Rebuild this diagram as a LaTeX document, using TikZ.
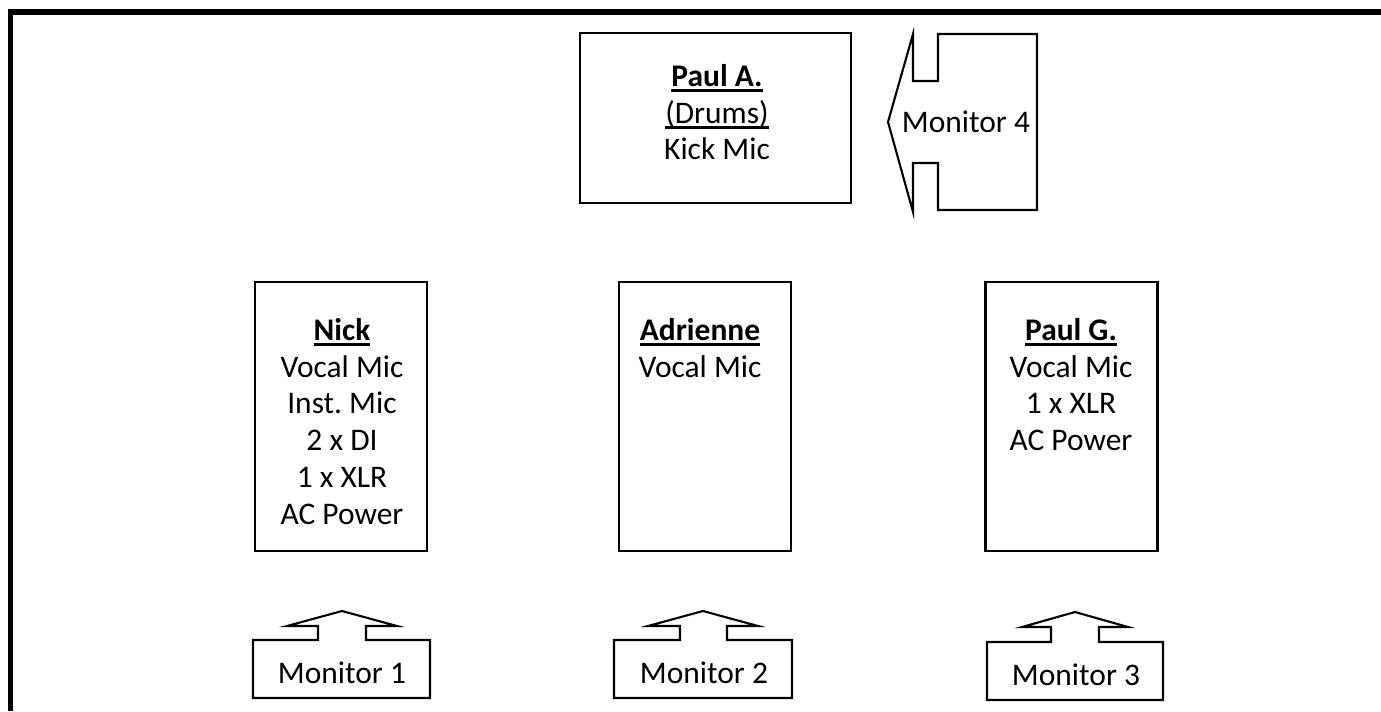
\documentclass[tikz,border=0pt]{standalone}
\usepackage{fontspec}
\setmainfont{Carlito}
\usepackage{tikz}
\usetikzlibrary{positioning}
\frenchspacing

\newcommand{\undl}[1]{\sbox0{#1}\rlap{\rule[-3.2pt]{\wd0}{1.7pt}}\usebox0}

\begin{document}
\begin{tikzpicture}[x=0.02cm,y=-0.02cm,
		stagebox/.style={draw,line width=1.2pt,inner sep=0pt},
		txt/.style={align=center,inner sep=0pt,font=\fontsize{17.9}{20.9}\selectfont},
		monline/.style={draw,line width=1.2pt,line join=miter}]
		\useasboundingbox (0,0) rectangle (1381,711);
		% stage edge
		\draw [line width=3.4pt] (10.5,711) -- (10.5,12) -- (1381,12);
		% players
		\node [stagebox,minimum width=5.42cm,minimum height=3.4cm] (paula) at (715.5,118) {};
		\node [stagebox,minimum width=3.44cm,minimum height=5.38cm] (nick) at (341,416.5) {};
		\node [stagebox,minimum width=3.44cm,minimum height=5.38cm] (adrienne) at (705,416.5) {};
		\node [stagebox,minimum width=3.44cm,minimum height=5.38cm] (paulg) at (1071.5,416.5) {};
		\node [txt,anchor=north] (paulatxt) at (717,64) {\undl{\textbf{Paul A.}}\\\undl{(Drums)}\\Kick Mic};
		\node [txt,anchor=north] (nicktxt) at (342,318) {\undl{\textbf{Nick}}\\Vocal Mic\\Inst. Mic\\2 x DI\\1 x XLR\\AC Power};
		\node [txt,anchor=north] (adriennetxt) at (700,318) {\undl{\textbf{Adrienne}}\\Vocal Mic};
		\node [txt,anchor=north] (paulgtxt) at (1071,318) {\undl{\textbf{Paul G.}}\\Vocal Mic\\1 x XLR\\AC Power};
		% monitors
		\path [monline] (253,640) -- (318,640) -- (318,626) -- (287,626) -- (342,611) -- (397,626) -- (366,626) -- (366,640) -- (430,640) -- (430,698) -- (253,698) -- cycle;
		\path [monline] (614,640) -- (680,640) -- (680,626) -- (648,626) -- (703,611) -- (758,626) -- (727,626) -- (727,640) -- (792,640) -- (792,698) -- (614,698) -- cycle;
		\path [monline] (987,642) -- (1051,642) -- (1051,627) -- (1022,627) -- (1075,612) -- (1128,627) -- (1099,627) -- (1099,642) -- (1163,642) -- (1163,700) -- (987,700) -- cycle;
		\path [monline] (938,34) -- (1037,34) -- (1037,210) -- (938,210) -- (938,163) -- (913,163) -- (913,212) -- (888,122) -- (913,34) -- (913,81) -- (938,81) -- cycle;
		\node [txt,anchor=base] (mon1) at (342,683) {Monitor 1};
		\node [txt,anchor=base] (mon2) at (704,683) {Monitor 2};
		\node [txt,anchor=base] (mon3) at (1076,685) {Monitor 3};
		\node [txt,anchor=base] (mon4) at (966,132) {Monitor 4};
	\end{tikzpicture}
\end{document}
